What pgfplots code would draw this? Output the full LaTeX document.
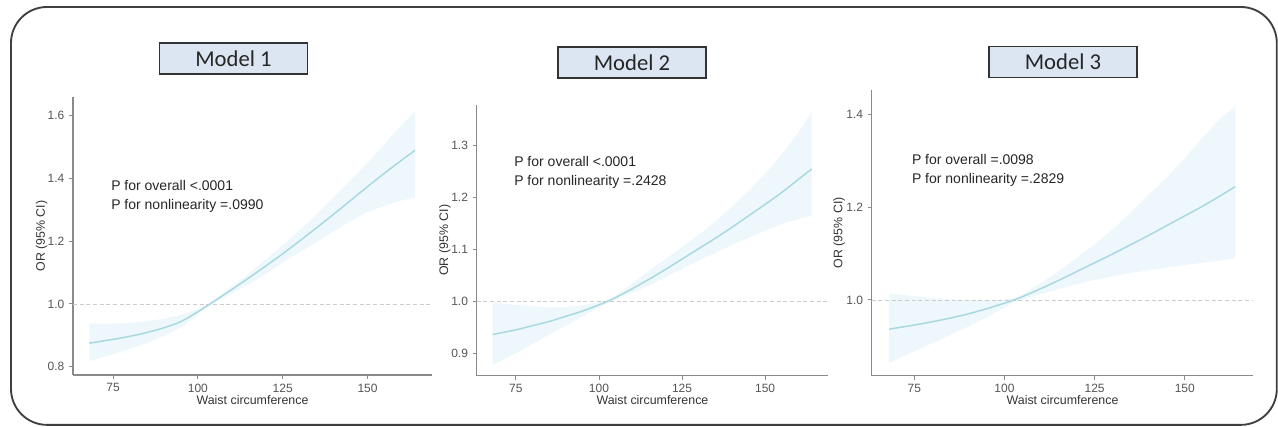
\documentclass[border=0pt]{standalone}
\usepackage{pgfplots}
\pgfplotsset{compat=1.18}
\usepackage{pgfplotstable}
\usepackage{fontspec}
\setmainfont{Liberation Sans}
\newfontfamily\carlito{Carlito}
\definecolor{linec}{HTML}{A8D8E0}
\definecolor{bandc}{HTML}{EEF7FB}
\definecolor{boxfill}{HTML}{DCE6F2}
\definecolor{tickc}{HTML}{555555}
\definecolor{axc}{HTML}{8A8A8A}

% line: x y ; band polygon: upper limit forward, lower limit backward
\pgfplotstableread{
x y
68 0.875
75 0.887
80 0.897
85 0.909
90 0.924
95 0.944
100 0.975
103 0.996
105 1.010
110 1.046
115 1.083
120 1.121
125 1.160
130 1.201
135 1.243
140 1.286
145 1.330
150 1.374
155 1.417
160 1.458
164 1.490
}\lineA
\pgfplotstableread{
x y
68 0.937
75 0.937
80 0.940
85 0.945
90 0.953
95 0.965
100 0.984
103 1.000
105 1.016
110 1.056
115 1.097
120 1.142
125 1.188
130 1.236
135 1.285
140 1.340
145 1.395
150 1.450
155 1.510
160 1.570
164 1.615
164 1.340
160 1.330
155 1.313
150 1.293
145 1.264
140 1.232
135 1.197
130 1.165
125 1.132
120 1.096
115 1.063
110 1.034
105 1.004
103 0.992
100 0.966
95 0.924
90 0.898
85 0.876
80 0.858
75 0.840
68 0.818
}\bandA

\pgfplotstableread{
x y
68 0.936
75 0.945
80 0.953
85 0.961
90 0.971
95 0.981
100 0.993
103 1.001
105 1.007
110 1.024
115 1.042
120 1.061
125 1.081
130 1.101
135 1.121
140 1.142
145 1.164
150 1.186
155 1.209
160 1.234
164 1.254
}\lineB
\pgfplotstableread{
x y
68 0.998
75 0.993
80 0.990
85 0.988
90 0.989
95 0.992
100 0.998
103 1.004
105 1.011
110 1.034
115 1.058
120 1.081
125 1.104
130 1.128
135 1.153
140 1.182
145 1.212
150 1.245
155 1.282
160 1.324
164 1.364
164 1.165
160 1.158
155 1.148
150 1.136
145 1.122
140 1.108
135 1.093
130 1.078
125 1.062
120 1.046
115 1.030
110 1.016
105 1.003
103 0.998
100 0.988
95 0.970
90 0.953
85 0.936
80 0.918
75 0.900
68 0.877
}\bandB

\pgfplotstableread{
x y
68 0.937
75 0.946
80 0.953
85 0.961
90 0.970
95 0.981
100 0.993
103 1.001
105 1.007
110 1.024
115 1.042
120 1.061
125 1.080
130 1.099
135 1.119
140 1.139
145 1.160
150 1.181
155 1.202
160 1.225
164 1.244
}\lineC
\pgfplotstableread{
x y
68 1.014
75 1.008
80 1.004
85 1.001
90 0.999
95 0.999
100 1.001
103 1.005
105 1.012
110 1.036
115 1.062
120 1.090
125 1.120
130 1.152
135 1.188
140 1.226
145 1.264
150 1.305
155 1.350
160 1.392
164 1.416
164 1.090
160 1.085
155 1.080
150 1.075
145 1.070
140 1.064
135 1.058
130 1.051
125 1.043
120 1.034
115 1.023
110 1.012
105 1.001
103 0.997
100 0.984
95 0.962
90 0.943
85 0.925
80 0.907
75 0.890
68 0.864
}\bandC

\pgfplotsset{
  rcs/.style={
    scale only axis,
    anchor=south west,
    axis x line*=bottom,
    axis y line*=left,
    axis line style={axc, line width=0.9pt},
    tick style={axc, line width=0.7pt},
    tick align=outside,
    major tick length=3pt,
    xmin=63.2, xmax=169,
    xtick={75,100,125,150},
    tick label style={font=\fontsize{9}{10}\selectfont, text=tickc},
    /pgf/number format/assume math mode=true,
    yticklabel={\pgfmathprintnumber[fixed, fixed zerofill, precision=1]{\tick}},
    xlabel={Waist circumference},
    ylabel={OR (95\% CI)},
    label style={font=\fontsize{9.3}{11}\selectfont, text=black!80},
  }
}

\begin{document}
\begin{tikzpicture}
\path (0,0) rectangle (958.5pt,320.25pt);
\draw[gray!50!black, line width=1.4pt, rounded corners=27pt] (8.25pt,1.6pt) rectangle (957.6pt,315pt);

% Panel 1
\begin{axis}[rcs, at={(54.75pt,39pt)}, width=269.25pt, height=208.5pt,
  ymin=0.7735, ymax=1.66, ytick={0.8,1.0,1.2,1.4,1.6},
  xlabel style={at={(axis description cs:0.5,-0.09)}, anchor=center},
  ylabel style={at={(axis description cs:-0.087,0.5)}, anchor=center}]
\addplot[fill=bandc, draw=none, forget plot] table {\bandA};
\addplot[densely dashed, black!20, line width=0.6pt, forget plot] coordinates {(63.2,1.0) (169,1.0)};
\addplot[linec, line width=1.1pt, smooth] table {\lineA};
\end{axis}

% Panel 2
\begin{axis}[rcs, at={(357.5pt,38.5pt)}, width=263.7pt, height=203pt,
  ymin=0.857, ymax=1.377, ytick={0.9,1.0,1.1,1.2,1.3},
  xlabel style={at={(axis description cs:0.5,-0.092)}, anchor=center},
  ylabel style={at={(axis description cs:-0.09,0.5)}, anchor=center}]
\addplot[fill=bandc, draw=none, forget plot] table {\bandB};
\addplot[densely dashed, black!20, line width=0.6pt, forget plot] coordinates {(63.2,1.0) (169,1.0)};
\addplot[linec, line width=1.1pt, smooth] table {\lineB};
\end{axis}

% Panel 3
\begin{axis}[rcs, at={(653.8pt,38.5pt)}, width=286.2pt, height=214.3pt,
  ymin=0.837, ymax=1.452, ytick={1.0,1.2,1.4},
  xlabel style={at={(axis description cs:0.5,-0.085)}, anchor=center},
  ylabel style={at={(axis description cs:-0.0857,0.5)}, anchor=center}]
\addplot[fill=bandc, draw=none, forget plot] table {\bandC};
\addplot[densely dashed, black!20, line width=0.6pt, forget plot] coordinates {(63.2,1.0) (169,1.0)};
\addplot[linec, line width=1.1pt, smooth] table {\lineC};
\end{axis}

% annotations
\begin{scope}[every node/.style={anchor=west, inner sep=0pt, font=\fontsize{10.5}{12}\selectfont, text=black!85}]
\node at (83.25pt,180.75pt) {P for overall <.0001};
\node at (83.25pt,165.75pt) {P for nonlinearity =.0990};
\node at (385.5pt,198.75pt) {P for overall <.0001};
\node at (385.5pt,183.75pt) {P for nonlinearity =.2428};
\node at (683.8pt,200.25pt) {P for overall =.0098};
\node at (683.8pt,185.25pt) {P for nonlinearity =.2829};
\end{scope}

% model boxes
\begin{scope}[every node/.style={draw=black!80, line width=1.2pt, fill=boxfill, minimum width=111pt, minimum height=23.25pt, inner sep=0pt, font=\carlito\fontsize{17}{19}\selectfont, text=black!85}]
\node at (175.1pt,276.4pt) {Model 1};
\node at (474pt,273.4pt) {Model 2};
\node at (797.25pt,273.75pt) {Model 3};
\end{scope}
\end{tikzpicture}
\end{document}
